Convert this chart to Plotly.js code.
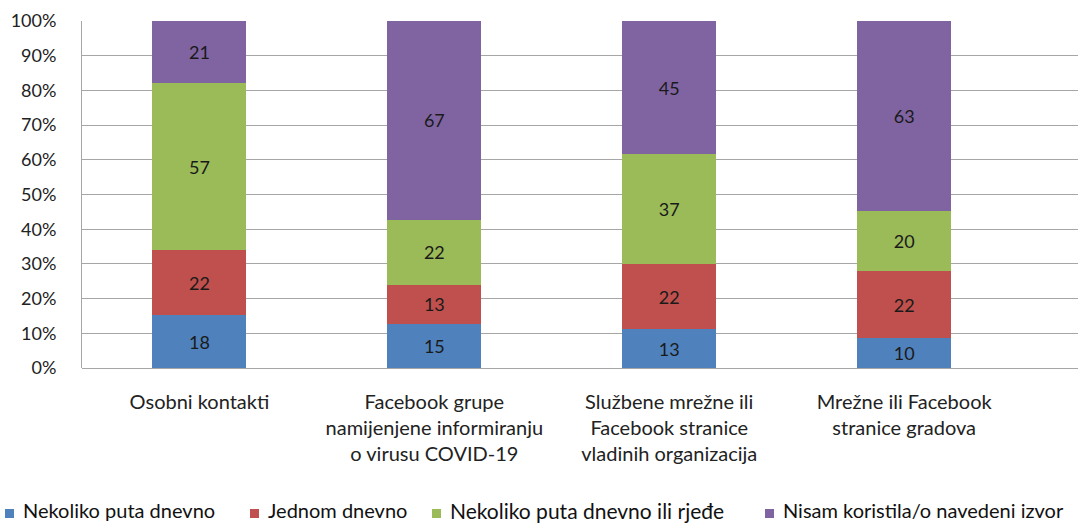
<!DOCTYPE html>
<html>
<head>
<meta charset="utf-8">
<script src="https://cdn.plot.ly/plotly-3.0.1.min.js"></script>
<style>html,body{margin:0;padding:0;background:#fff;}#chart{width:1078px;height:524px;}</style>
</head>
<body>
<div id="chart"></div>
<script>
const categories = ["Osobni kontakti", "Facebook grupe<br>namijenjene informiranju<br>o virusu COVID-19", "Službene mrežne ili<br>Facebook stranice<br>vladinih organizacija", "Mrežne ili Facebook<br>stranice gradova"];
const seriesNames = ["Nekoliko puta dnevno", "Jednom dnevno", "Nekoliko puta dnevno ili rjeđe", "Nisam koristila/o navedeni izvor"];
const seriesColors = ["#4F81BD", "#C0504D", "#9BBB59", "#8064A2"];
const nekolikoPutaDnevno = [18, 15, 13, 10];
const jednomDnevno = [22, 13, 22, 22];
const nekolikoPutaRjede = [57, 22, 37, 20];
const nisamKoristio = [21, 67, 45, 63];
const seriesValues = [nekolikoPutaDnevno, jednomDnevno, nekolikoPutaRjede, nisamKoristio];
const yTickVals = [0,10,20,30,40,50,60,70,80,90,100];
const yTickText = ["0%","10%","20%","30%","40%","50%","60%","70%","80%","90%","100%"];

const FONT = "Lato, 'Liberation Sans', sans-serif";
const xIdx = categories.map((c,i)=>i);

const traces = seriesValues.map((vals, i) => ({
  type: 'bar',
  name: seriesNames[i],
  x: xIdx,
  y: vals,
  text: vals.map(String),
  texttemplate: '%{text}',
  textposition: 'inside',
  insidetextanchor: 'middle',
  textangle: 0,
  constraintext: 'none',
  textfont: {family: FONT, size: 18, color: '#1a1a1a'},
  marker: {color: seriesColors[i], line: {width: 0}},
  showlegend: false,
  hoverinfo: 'skip'
}));

const W = 1078, H = 524;
const PL = 82, PT = 21, PB = 368;
const legendX = [5, 250, 432, 765];
const legendSizes = [20, 20, 21, 20];
const shapes = [];
const annotations = [];
const px2x = p => (p - PL) / (W - PL);
const py2y = p => (PB - p) / (PB - PT);
seriesNames.forEach((n, i) => {
  const x0 = legendX[i];
  shapes.push({type:'rect', xref:'paper', yref:'paper',
    x0: px2x(x0), x1: px2x(x0 + 9),
    y0: py2y(518), y1: py2y(509),
    fillcolor: seriesColors[i], line:{width:0}});
  annotations.push({xref:'paper', yref:'paper', x: px2x(x0 + 16), y: py2y(510),
    xanchor:'left', yanchor:'middle', showarrow:false, text: n,
    font:{family: FONT, size: legendSizes[i], color:'#111'}});
});

const layout = {
  width: W, height: H,
  margin: {l: PL, r: 0, t: PT, b: H - PB},
  paper_bgcolor: '#fff', plot_bgcolor: '#fff',
  barmode: 'stack', barnorm: 'percent', bargap: 0.6,
  showlegend: false,
  xaxis: {
    range: [-0.5, 3.74], tickvals: xIdx, ticktext: categories,
    showgrid: false, zeroline: false, showline: false, ticks: '',
    ticklabelstandoff: 20,
    tickfont: {family: FONT, size: 20, color: '#222'}, fixedrange: true
  },
  yaxis: {
    range: [0, 100], tickvals: yTickVals, ticktext: yTickText,
    showgrid: true, gridcolor: '#a6a6a6', gridwidth: 1,
    zeroline: true, zerolinecolor: '#a6a6a6', zerolinewidth: 1,
    showline: true, linecolor: '#a6a6a6', linewidth: 1,
    ticks: '', ticklabelstandoff: 21,
    tickfont: {family: FONT, size: 18, color: '#222'}, fixedrange: true
  },
  shapes: shapes,
  annotations: annotations
};

Plotly.newPlot('chart', traces, layout, {displayModeBar: false, staticPlot: true});
</script>
</body>
</html>
